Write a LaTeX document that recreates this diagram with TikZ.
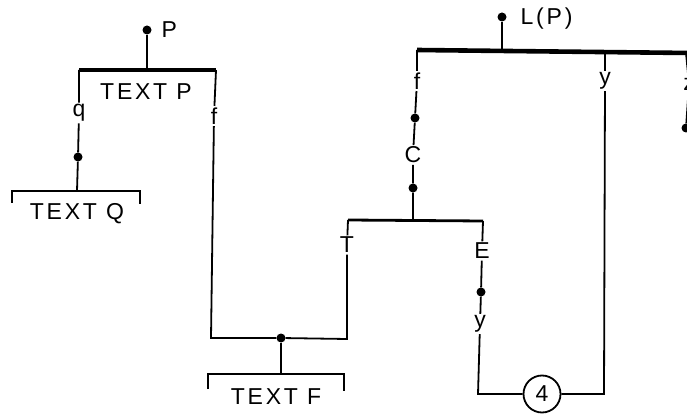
\documentclass[tikz,border=0pt]{standalone}
\usepackage{fontspec}
\setmainfont{Liberation Sans}[LetterSpace=12]
\tikzset{
  dot/.style={circle,fill,inner sep=0pt,minimum size=9pt},
  lbl/.style={inner sep=1.5pt,font=\fontsize{23}{26}\selectfont},
  bar/.style={line width=3.6pt},
  wire/.style={line width=1.8pt},
}
\begin{document}
\begin{tikzpicture}[x=1pt,y=-1pt,line join=miter]
    \useasboundingbox (0,0) rectangle (687,419);

    \node[dot] (pdot) at (147,30) {};
    \node[lbl,anchor=west] (plab) at (160,30) {P};
    \coordinate (pmid) at (147,70);
    \coordinate (pl) at (79,70);
    \coordinate (pr) at (216,70);
    \draw[bar] (pl) -- (pr);
    \draw[wire] (pdot) -- (pmid);
    \node[lbl] (ptext) at (146,92) {TEXT P};

    \node[lbl] (q) at (79,113) {q};
    \node[dot] (qdot) at (78,157) {};
    \coordinate (qmid) at (77,191);
    \draw[wire] (pl) -- (q) -- (qdot) -- (qmid);
    \coordinate (qbl) at (12,191);
    \coordinate (qbr) at (140,191);
    \coordinate (qbl0) at (12,203);
    \coordinate (qbr0) at (140,204);
    \draw[wire] (qbl0) -- (qbl) -- (qbr) -- (qbr0);
    \node[lbl] (qtext) at (77,214) {TEXT Q};

    \node[lbl] (fp) at (214,116) {f};
    \coordinate (fb) at (211,338);
    \node[dot] (fdot) at (281,338) {};
    \coordinate (tb) at (347,339);
    \node[lbl] (t) at (347,245) {T};
    \coordinate (tt) at (348,220);
    \draw[wire] (pr) -- (fp) -- (fb) -- (fdot) -- (tb) -- (t) -- (tt);
    \coordinate (fmid) at (281,374);
    \coordinate (fbl) at (208,374);
    \coordinate (fbr) at (344,374);
    \coordinate (fbl0) at (208,389);
    \coordinate (fbr0) at (344,391);
    \draw[wire] (fdot) -- (fmid);
    \draw[wire] (fbl0) -- (fbl) -- (fbr) -- (fbr0);
    \node[lbl] (ftext) at (276,397) {TEXT F};

    \coordinate (cj) at (413,220);
    \coordinate (ej) at (483,221);
    \draw[bar,line width=2.8pt] (tt) -- (ej);

    \node[dot] (lpdot) at (502,17) {};
    \node[lbl,anchor=west] (lplab) at (519,19) {L(P)};
    \coordinate (lpmid) at (502,50);
    \coordinate (lfl) at (417,50);
    \coordinate (lfr) at (690,53);
    \draw[bar,line width=4.6pt] (lfl) -- (lfr);
    \draw[wire] (lpdot) -- (lpmid);

    \node[lbl] (fl) at (417,81) {f};
    \node[dot] (cdot1) at (415,118) {};
    \node[lbl] (c) at (413,155) {C};
    \node[dot] (cdot2) at (413,188) {};
    \draw[wire] (lfl) -- (fl) -- (cdot1) -- (c) -- (cdot2) -- (cj);

    \node[lbl] (e) at (482,251) {E};
    \node[dot] (edot) at (481,292) {};
    \node[lbl] (ye) at (480,324) {y};
    \coordinate (yb) at (478,394);
    \node[circle,draw,wire,inner sep=0pt,minimum size=37pt,font=\fontsize{23}{26}\selectfont] (four) at (542,394) {4};
    \coordinate (rb) at (604,394);
    \node[lbl] (yr) at (605,81) {y};
    \coordinate (yt) at (605,52);
    \draw[wire] (ej) -- (e) -- (edot) -- (ye) -- (yb) -- (four) -- (rb) -- (yr) -- (yt);

    \coordinate (zt) at (686,53);
    \node[lbl] (z) at (689,84) {z};
    \node[dot] (zdot) at (686,128) {};
    \draw[wire] (zt) -- (z) -- (zdot);
\end{tikzpicture}
\end{document}
